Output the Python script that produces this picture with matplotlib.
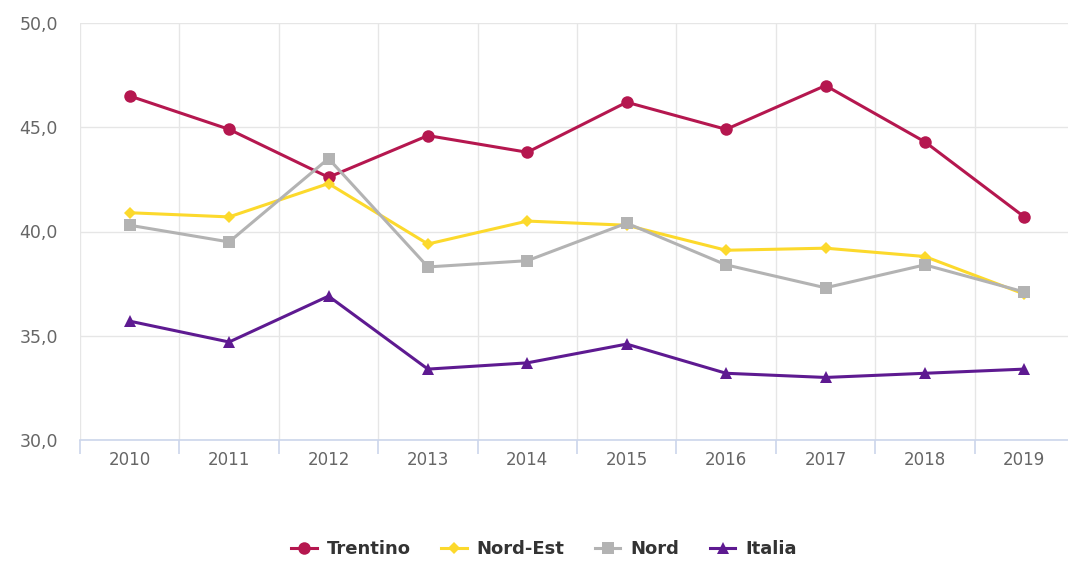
import matplotlib
matplotlib.use('Agg')
import matplotlib.pyplot as plt
from matplotlib.ticker import FuncFormatter

years = ['2010', '2011', '2012', '2013', '2014', '2015', '2016', '2017', '2018', '2019']
trentino = [46.5, 44.9, 42.6, 44.6, 43.8, 46.2, 44.9, 47.0, 44.3, 40.7]
nord_est = [40.9, 40.7, 42.3, 39.4, 40.5, 40.3, 39.1, 39.2, 38.8, 37.0]
nord = [40.3, 39.5, 43.5, 38.3, 38.6, 40.4, 38.4, 37.3, 38.4, 37.1]
italia = [35.7, 34.7, 36.9, 33.4, 33.7, 34.6, 33.2, 33.0, 33.2, 33.4]

series = [
    ('Trentino', trentino, '#b5174f', 'o', 9),
    ('Nord-Est', nord_est, '#fcd92c', 'D', 6),
    ('Nord', nord, '#b3b3b3', 's', 9),
    ('Italia', italia, '#5e1a91', '^', 9),
]

plt.rcParams['font.family'] = ['DejaVu Sans']
fig = plt.figure(figsize=(10.68, 5.62), dpi=100)
# plot area runs a little past the right edge of the picture, as in the original
ax = fig.add_axes([80 / 1068, 122 / 562, 994 / 1068, 417 / 562])

x = list(range(len(years)))
for name, vals, col, mk, ms in series:
    ax.plot(x, vals, color=col, lw=2.2, marker=mk, markersize=ms,
            markeredgewidth=0, label=name, zorder=3)

ax.set_ylim(30, 50)
ax.set_xlim(-0.5, 9.5)
ax.set_yticks([30, 35, 40, 45, 50])
ax.yaxis.set_major_formatter(FuncFormatter(lambda v, p: f'{v:.1f}'.replace('.', ',')))
ax.set_xticks(x)
ax.set_xticklabels(years)
ax.set_xticks([i - 0.5 for i in range(len(years) + 1)], minor=True)

ax.grid(axis='y', color='#e6e6e6', lw=1)
ax.grid(axis='x', which='minor', color='#e6e6e6', lw=1)
ax.set_axisbelow(True)
for s in ['top', 'right', 'left']:
    ax.spines[s].set_visible(False)
ax.spines['bottom'].set_color('#ccd6eb')
ax.spines['bottom'].set_linewidth(1.2)

ax.tick_params(axis='y', length=0, pad=16, labelsize=12.5, labelcolor='#666666')
ax.tick_params(axis='x', which='major', length=0, pad=8, labelsize=12, labelcolor='#666666')
ax.tick_params(axis='x', which='minor', length=10, width=1.2, color='#ccd6eb')
for lbl in ax.get_yticklabels():
    lbl.set_y(lbl.get_position()[1])
    lbl.set_va('center_baseline')

leg = fig.legend(loc='center', bbox_to_anchor=(544 / 1068, 1 - 549 / 562), ncol=4,
                 frameon=False, fontsize=13, handlelength=1.4, columnspacing=1.7,
                 handletextpad=0.55)
for t in leg.get_texts():
    t.set_color('#333333')
    t.set_fontweight('bold')

fig.savefig('out.png', dpi=100)
